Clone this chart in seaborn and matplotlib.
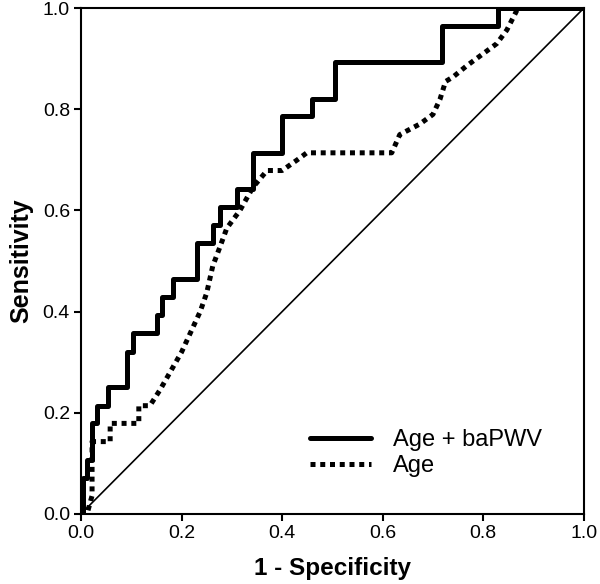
import numpy as np
import pandas as pd
import matplotlib
matplotlib.use("Agg")
import matplotlib.pyplot as plt
import seaborn as sns

# ROC curve vertices (1 - specificity, sensitivity)
combo_fpr = [0.0, 0.003, 0.003, 0.011, 0.011, 0.021, 0.021, 0.031, 0.031, 0.054, 0.054,
             0.091, 0.091, 0.103, 0.103, 0.151, 0.151, 0.161, 0.161, 0.183, 0.183,
             0.230, 0.230, 0.262, 0.262, 0.276, 0.276, 0.310, 0.310, 0.342, 0.342,
             0.400, 0.400, 0.460, 0.460, 0.505, 0.505, 0.718, 0.718, 0.829, 0.829, 1.0]
combo_tpr = [0.0, 0.0, 0.071, 0.071, 0.107, 0.107, 0.179, 0.179, 0.214, 0.214, 0.250,
             0.250, 0.321, 0.321, 0.357, 0.357, 0.393, 0.393, 0.429, 0.429, 0.464,
             0.464, 0.536, 0.536, 0.571, 0.571, 0.607, 0.607, 0.643, 0.643, 0.714,
             0.714, 0.786, 0.786, 0.821, 0.821, 0.893, 0.893, 0.964, 0.964, 1.0, 1.0]

age_fpr = [0.0, 0.012, 0.022, 0.022, 0.058, 0.058, 0.115, 0.115, 0.137, 0.157, 0.200,
           0.237, 0.250, 0.262, 0.276, 0.290, 0.316, 0.342, 0.370, 0.400, 0.430,
           0.449, 0.618, 0.634, 0.674, 0.700, 0.714, 0.725, 0.740, 0.767, 0.793,
           0.827, 0.847, 0.867, 0.870, 1.0]
age_tpr = [0.0, 0.0, 0.036, 0.143, 0.143, 0.179, 0.179, 0.214, 0.214, 0.245, 0.320,
           0.400, 0.437, 0.490, 0.527, 0.565, 0.600, 0.646, 0.679, 0.679, 0.700,
           0.714, 0.714, 0.750, 0.771, 0.790, 0.820, 0.855, 0.864, 0.886, 0.905,
           0.930, 0.957, 0.996, 1.0, 1.0]

ref_line = [0.0, 1.0]

labels = ["Age + baPWV", "Age"]

df = pd.concat([
    pd.DataFrame({"fpr": combo_fpr, "tpr": combo_tpr, "model": labels[0]}),
    pd.DataFrame({"fpr": age_fpr, "tpr": age_tpr, "model": labels[1]}),
], ignore_index=True)

sns.set_style("ticks")
plt.rcParams["font.family"] = ["Liberation Sans", "DejaVu Sans"]
plt.rcParams["text.color"] = "black"
plt.rcParams["axes.labelcolor"] = "black"

fig = plt.figure(figsize=(6.0, 5.84), dpi=100)
ax = fig.add_axes([0.135, 0.12, 0.838, 0.866])

ax.plot(ref_line, ref_line, color="black", lw=1.2, zorder=1)
sns.lineplot(data=df, x="fpr", y="tpr", hue="model", style="model",
             palette=["black", "black"],
             dashes={labels[0]: "", labels[1]: (1, 0.95)},
             sort=False, estimator=None, lw=3.6, ax=ax, zorder=3)

ax.set_xlim(0, 1)
ax.set_ylim(0, 1)
ticks = np.arange(0, 1.01, 0.2)
ax.set_xticks(ticks)
ax.set_yticks(ticks)
ax.set_xticklabels([f"{v:.1f}" for v in ticks])
ax.set_yticklabels([f"{v:.1f}" for v in ticks])
ax.tick_params(direction="out", length=5, width=1.5, labelsize=14, colors="black", pad=3)
for sp in ax.spines.values():
    sp.set_visible(True)
    sp.set_linewidth(1.5)
    sp.set_color("black")

ax.set_xlabel("1 - Specificity", fontsize=17.5, fontweight="bold", labelpad=11)
ax.set_ylabel("Sensitivity", fontsize=18, fontweight="bold", labelpad=7)

handles, lbls = ax.get_legend_handles_labels()
leg = ax.legend(handles=handles, labels=lbls, frameon=False, fontsize=17,
                loc="lower right", bbox_to_anchor=(0.96, 0.03),
                handlelength=2.6, handletextpad=0.95, labelspacing=0.2)
for h in leg.get_lines():
    h.set_linewidth(3.6)

fig.savefig("out.png", dpi=100)
